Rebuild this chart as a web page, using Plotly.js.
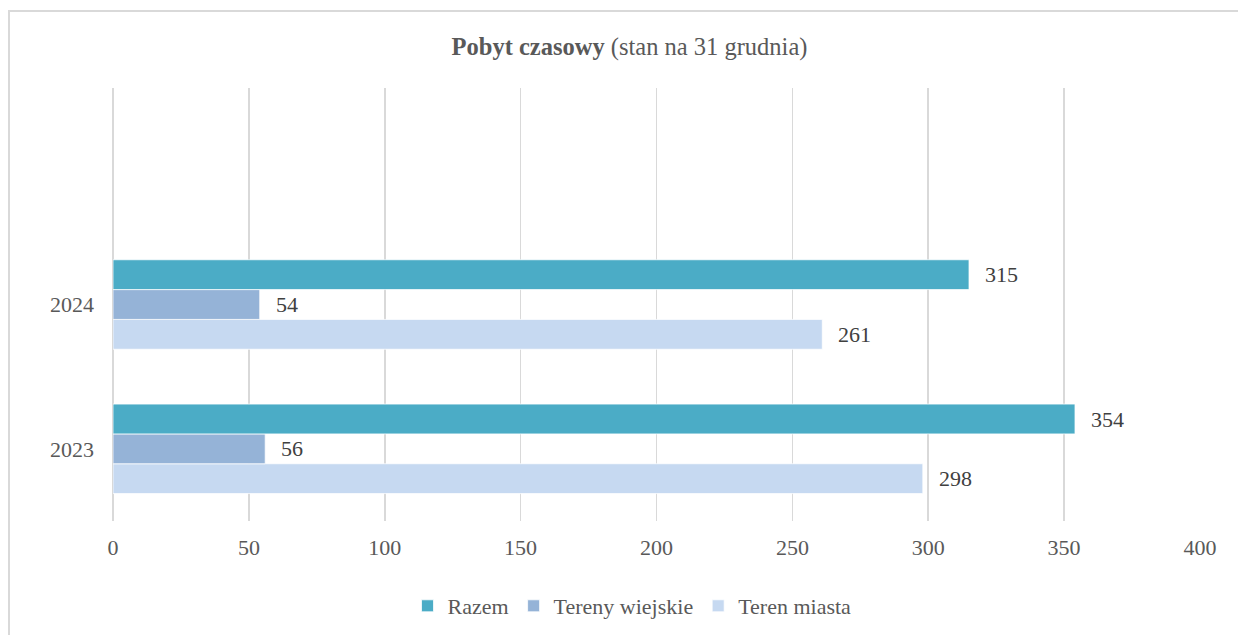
<!DOCTYPE html>
<html>
<head>
<meta charset="utf-8">
<script src="https://cdn.plot.ly/plotly-3.0.1.min.js"></script>
<style>
  html, body { margin: 0; padding: 0; background: #fff; }
  #wrap { position: relative; width: 1238px; height: 635px; overflow: hidden; }
  #chart { width: 1238px; height: 635px; }
  #frame { position: absolute; left: 8px; top: 10px; width: 1300px; height: 700px;
           border-left: 2px solid #d9d9d9; border-top: 2px solid #d9d9d9; pointer-events: none; }
</style>
</head>
<body>
<div id="wrap">
  <div id="chart"></div>
  <div id="frame"></div>
</div>
<script>
const years = ['2023', '2024'];
const seriesNames = ['Razem', 'Tereny wiejskie', 'Teren miasta'];
const razem = [354, 315];
const terenyWiejskie = [56, 54];
const terenMiasta = [298, 261];
const xTicks = [0, 50, 100, 150, 200, 250, 300, 350, 400];

const colors = { 'Razem': '#4BACC6', 'Tereny wiejskie': '#95B3D7', 'Teren miasta': '#C6D9F1' };
const FONT = 'Liberation Serif, Times New Roman, serif';

// bottom-to-top drawing order within each group
const order = [
  { name: 'Teren miasta', values: terenMiasta },
  { name: 'Tereny wiejskie', values: terenyWiejskie },
  { name: 'Razem', values: razem }
];

const bargap = 0.38;
const nTr = order.length;
const bw = (1 - bargap) / nTr;

const traces = order.map(s => ({
  type: 'bar',
  orientation: 'h',
  name: s.name,
  y: years,
  x: s.values,
  marker: { color: colors[s.name], line: { color: '#ffffff', width: 0.75 } },
  hoverinfo: 'x+name'
}));

const annotations = [];
order.forEach((s, i) => {
  const off = -(1 - bargap) / 2 + bw * (i + 0.5);
  s.values.forEach((v, j) => {
    annotations.push({
      x: v, y: j + off, xref: 'x', yref: 'y',
      text: String(v), showarrow: false,
      xanchor: 'left', yanchor: 'middle', xshift: 14,
      font: { family: FONT, size: 22, color: '#404040' }
    });
  });
});

const layout = {
  width: 1238, height: 635,
  margin: { l: 112.5, r: 37.5, t: 88, b: 113.5 },
  paper_bgcolor: '#ffffff', plot_bgcolor: '#ffffff',
  barmode: 'group', bargap: bargap, bargroupgap: 0,
  font: { family: FONT, size: 22, color: '#595959' },
  title: {
    text: '<b>Pobyt czasowy</b> (stan na 31 grudnia)',
    x: 0.5085, xref: 'container', xanchor: 'center',
    y: 1 - 46 / 635, yref: 'container', yanchor: 'middle',
    font: { family: FONT, size: 24.5, color: '#595959' }
  },
  xaxis: {
    range: [0, 400], tickvals: xTicks, ticktext: xTicks.map(String),
    showgrid: true, gridcolor: '#d9d9d9', gridwidth: 1.75,
    zeroline: true, zerolinecolor: '#d9d9d9', zerolinewidth: 1.75,
    showline: false, ticks: '', ticklabelstandoff: 11,
    tickfont: { family: FONT, size: 22, color: '#595959' },
    fixedrange: true
  },
  yaxis: {
    type: 'category', categoryorder: 'array', categoryarray: years,
    range: [-0.5, 2.5],
    showgrid: false, zeroline: false, showline: false, ticks: '',
    ticklabelstandoff: 18,
    tickfont: { family: FONT, size: 22, color: '#595959' },
    fixedrange: true
  },
  showlegend: true,
  legend: {
    orientation: 'h', traceorder: 'reversed',
    x: 632 / 1238, xref: 'container', xanchor: 'center',
    y: 1 - 606 / 635, yref: 'container', yanchor: 'middle',
    font: { family: FONT, size: 22, color: '#595959' },
    itemwidth: 30, itemclick: false, itemdoubleclick: false
  },
  annotations: annotations
};

Plotly.newPlot('chart', traces, layout, { displayModeBar: false, staticPlot: true });
</script>
</body>
</html>
